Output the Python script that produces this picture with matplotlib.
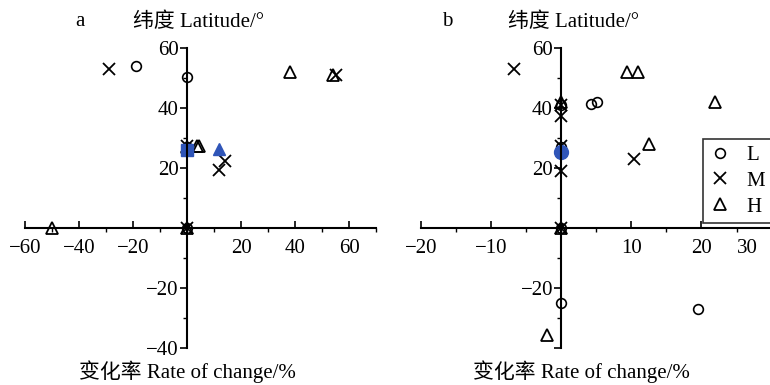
import matplotlib
matplotlib.use("Agg")
import matplotlib.pyplot as plt
import matplotlib.transforms as mtransforms
from matplotlib.ticker import MultipleLocator
from matplotlib.lines import Line2D

plt.rcParams['font.family'] = ['Liberation Serif', 'Noto Sans CJK SC']
plt.rcParams['axes.unicode_minus'] = True

BLUE = '#2f55b8'

# panel a: rate of change (%) vs latitude
a_L_x = [-19, 0, 0, 0]
a_L_y = [54, 50.5, 27, 0]
a_M_x = [-29, 55, 0, 14, 12, 0]
a_M_y = [53, 51, 27.5, 22.5, 19.5, 0]
a_H_x = [38, 54, 0, 3.5, 4.5, -50, 0]
a_H_y = [52, 51, 27, 27.5, 27.5, 0, 0]
a_blue_sq_x = [0]
a_blue_sq_y = [26]
a_blue_tri_x = [12]
a_blue_tri_y = [26.5]

# panel b
b_L_x = [4.2, 5.1, 0, 0, 0, 0, 19.5]
b_L_y = [41.5, 42, 41, 27, 0, -25, -27]
b_M_x = [-6.7, 0, 0, 10.3, 0, 0, 0]
b_M_y = [53, 41, 37.5, 23, 27.5, 19, 0]
b_H_x = [9.4, 11, 22, 0, 12.5, 0, -2]
b_H_y = [52, 52, 42, 42, 28, 0, -35.5]
b_blue_x = [0]
b_blue_y = [25.5]

xlabel = '变化率 Rate of change/%'
ylabel = '纬度 Latitude/°'

fig = plt.figure(figsize=(7.7, 3.85), dpi=100)
ax_a = fig.add_axes([0.0325, 0.096, 0.456, 0.779])
ax_b = fig.add_axes([0.547, 0.096, 0.455, 0.779])

circ = dict(marker='o', markerfacecolor='none', linestyle='none', color='black',
            markersize=7, markeredgewidth=1.2)
cross = dict(marker='x', linestyle='none', color='black', markersize=8, markeredgewidth=1.3)
tri = dict(marker='^', markerfacecolor='none', linestyle='none', color='black',
           markersize=8, markeredgewidth=1.3)


def scatter_panel(ax, Lx, Ly, Mx, My, Hx, Hy):
    ax.plot(Lx, Ly, **circ)
    ax.plot(Mx, My, **cross)
    ax.plot(Hx, Hy, **tri)


def style_axes(ax, xlim, xstep, yticks, ylabels, xticks):
    ax.set_xlim(*xlim)
    ax.set_ylim(-40, 60)
    for s in ['top', 'right']:
        ax.spines[s].set_visible(False)
    ax.spines['left'].set_position(('data', 0))
    ax.spines['bottom'].set_position(('data', 0))
    ax.spines['left'].set_linewidth(1.5)
    ax.spines['bottom'].set_linewidth(1.5)
    ax.set_xticks(xticks)
    ax.set_yticks(yticks, ylabels)
    ax.xaxis.set_minor_locator(MultipleLocator(xstep / 2))
    ax.yaxis.set_minor_locator(MultipleLocator(10))
    ax.tick_params(axis='x', direction='in', length=5, width=1.2, labelsize=15, pad=8)
    ax.tick_params(axis='y', direction='out', length=5, width=1.2, labelsize=15, pad=1)
    ax.tick_params(which='minor', length=3, width=1)
    ax.patch.set_visible(False)


scatter_panel(ax_a, a_L_x, a_L_y, a_M_x, a_M_y, a_H_x, a_H_y)
ax_a.plot(a_blue_sq_x, a_blue_sq_y, marker='s', color=BLUE, markersize=8, linestyle='none')
ax_a.plot(a_blue_tri_x, a_blue_tri_y, marker='^', color=BLUE, markersize=9, linestyle='none')
style_axes(ax_a, (-60, 70), 20, [-40, -20, 20, 40, 60],
           ['−40', '−20', '20', '40', '60'], [-60, -40, -20, 20, 40, 60])

scatter_panel(ax_b, b_L_x, b_L_y, b_M_x, b_M_y, b_H_x, b_H_y)
ax_b.plot(b_blue_x, b_blue_y, marker='o', color=BLUE, markersize=10, linestyle='none')
style_axes(ax_b, (-20, 30), 10, [-40, -20, 20, 40, 60],
           ['', '−20', '20', '40', '60'], [-20, -10, 10, 20, 30])
# last x label sits inside the figure edge
last = ax_b.get_xticklabels()[-1]
last.set_transform(last.get_transform() +
                   mtransforms.ScaledTranslation(-0.24, 0, fig.dpi_scale_trans))

# panel letters and axis titles
fig.text(75 / 770, 1 - 22 / 385, 'a', fontsize=15, ha='left', va='center')
fig.text(199 / 770, 1 - 22 / 385, ylabel, fontsize=15, ha='center', va='center')
fig.text(187 / 770, 1 - 372 / 385, xlabel, fontsize=15, ha='center', va='center')
fig.text(442 / 770, 1 - 22 / 385, 'b', fontsize=15, ha='left', va='center')
fig.text(573 / 770, 1 - 22 / 385, ylabel, fontsize=15, ha='center', va='center')
fig.text(581 / 770, 1 - 372 / 385, xlabel, fontsize=15, ha='center', va='center')

handles = [Line2D([], [], **circ), Line2D([], [], **cross), Line2D([], [], **tri)]
leg = fig.legend(handles, ['L', 'M', 'H'], loc='upper left', mode='expand',
                 bbox_to_anchor=(703 / 770, 1 - 222 / 385, 0.15, 83 / 385), fontsize=15,
                 frameon=True, fancybox=False, edgecolor='black',
                 handlelength=1.0, handletextpad=0.8, labelspacing=0.3,
                 borderpad=0.3, borderaxespad=0)
leg.get_frame().set_linewidth(1.2)

fig.savefig('out.png', dpi=100)
